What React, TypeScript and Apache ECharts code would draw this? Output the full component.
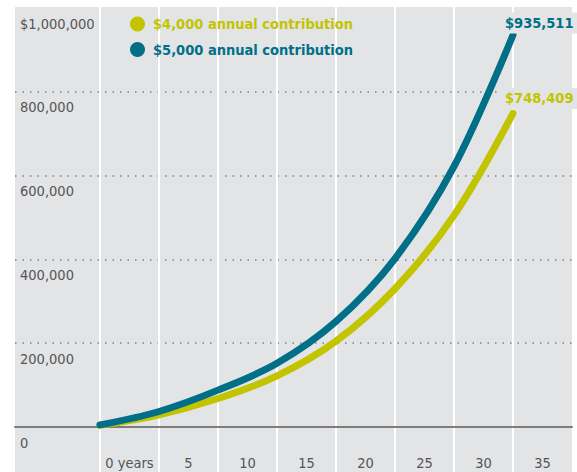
import React, { useEffect, useRef } from "react";
import * as echarts from "echarts";

const years = [0, 5, 10, 15, 20, 25, 30, 35];
const xTickLabels = ["0 years", "5", "10", "15", "20", "25", "30", "35"];
const contrib4000 = [4000, 29000, 68000, 122000, 205000, 330000, 505000, 748409];
const contrib5000 = [5000, 37000, 88000, 152000, 252000, 402000, 622000, 935511];
const seriesNames = ["$4,000 annual contribution", "$5,000 annual contribution"];
const seriesColors = ["#c2c400", "#006f87"];

const FONT = "'DejaVu Sans Condensed', 'Liberation Sans Narrow', sans-serif";
const BG = "#e3e4e6";

export default function App() {
  const ref = useRef<HTMLDivElement>(null);
  useEffect(() => {
    document.body.style.margin = "0";
    const chart = echarts.init(ref.current!, null, { renderer: "svg" });
    const mk = (vals: number[]) => years.map((y, i) => [y, vals[i]]);
    const endLabel = (color: string, dy: number) => ({
      show: true,
      formatter: (p: any) => "$" + Number(p.value[1]).toLocaleString("en-US"),
      color,
      fontFamily: FONT,
      fontWeight: "bold",
      fontSize: 14.5,
      backgroundColor: BG,
      padding: [3, 8, 3, 8],
      offset: [-24, dy],
    });
    chart.setOption({
      animation: false,
      textStyle: { fontFamily: FONT },
      graphic: [
        {
          type: "rect",
          z: -100,
          shape: { x: 15, y: 7, width: 557, height: 465 },
          style: { fill: BG },
          silent: true,
        },
      ],
      grid: [
        { left: 15, right: 5, top: 8, bottom: 45 },
        { left: 100, right: 5, top: 8, bottom: 45 },
        { left: 100, right: 5, top: 7, bottom: 0 },
      ],
      xAxis: [
        {
          gridIndex: 0,
          type: "value",
          min: 0,
          max: 1,
          axisLine: { show: true, onZero: false, lineStyle: { color: "#7d7d7d", width: 2 } },
          axisTick: { show: false },
          axisLabel: { show: false },
          splitLine: { show: false },
        },
        {
          gridIndex: 1,
          type: "value",
          min: 0,
          max: 40,
          show: false,
        },
        {
          gridIndex: 2,
          type: "value",
          min: 0,
          max: 40,
          interval: 5,
          axisLine: { show: false },
          axisTick: { show: false },
          axisLabel: { show: false },
          splitLine: { show: true, showMaxLine: false, lineStyle: { color: "#ffffff", width: 2 } },
        },
        {
          gridIndex: 2,
          type: "category",
          data: xTickLabels,
          boundaryGap: true,
          position: "bottom",
          axisLine: { show: false },
          axisTick: { show: false },
          splitLine: { show: false },
          axisLabel: {
            inside: true,
            interval: 0,
            margin: 2,
            color: "#555555",
            fontSize: 14.5,
            fontFamily: FONT,
          },
        },
      ],
      yAxis: [
        {
          gridIndex: 0,
          type: "value",
          min: 0,
          max: 1000000,
          interval: 200000,
          axisLine: { show: false },
          axisTick: { show: false },
          axisLabel: {
            inside: true,
            margin: 5,
            verticalAlign: "top",
            padding: [8, 0, 0, 0],
            color: "#555555",
            fontSize: 14.5,
            fontFamily: FONT,
            formatter: (v: number) => (v === 1000000 ? "$1,000,000" : v.toLocaleString("en-US")),
          },
          splitLine: {
            show: true,
            showMinLine: false,
            showMaxLine: false,
            lineStyle: { color: "#808080", width: 1.5, type: [1.5, 6] },
          },
        },
        { gridIndex: 1, type: "value", min: 0, max: 1000000, show: false },
        { gridIndex: 2, type: "value", min: 0, max: 1, show: false },
      ],
      legend: {
        orient: "vertical",
        left: 125,
        top: 11,
        icon: "circle",
        itemWidth: 15,
        itemHeight: 15,
        itemGap: 9.5,
        selectedMode: false,
        textStyle: {
          fontFamily: FONT,
          fontWeight: "bold",
          fontSize: 14.5,
          lineHeight: 16,
          padding: [0, 0, 0, 3],
        },
        data: seriesNames.map((n, i) => ({ name: n, textStyle: { color: seriesColors[i] } })),
      },
      series: [
        {
          name: seriesNames[0],
          type: "line",
          xAxisIndex: 1,
          yAxisIndex: 1,
          data: mk(contrib4000),
          smooth: 0.35,
          symbol: "none",
          color: seriesColors[0],
          lineStyle: { width: 7, cap: "round", color: seriesColors[0] },
          endLabel: endLabel(seriesColors[0], -15),
          z: 3,
        },
        {
          name: seriesNames[1],
          type: "line",
          xAxisIndex: 1,
          yAxisIndex: 1,
          data: mk(contrib5000),
          smooth: 0.35,
          symbol: "none",
          color: seriesColors[1],
          lineStyle: { width: 7, cap: "round", color: seriesColors[1] },
          endLabel: endLabel(seriesColors[1], -12),
          z: 4,
        },
      ],
    });
    return () => chart.dispose();
  }, []);
  return <div ref={ref} style={{ width: 577, height: 472 }} />;
}
